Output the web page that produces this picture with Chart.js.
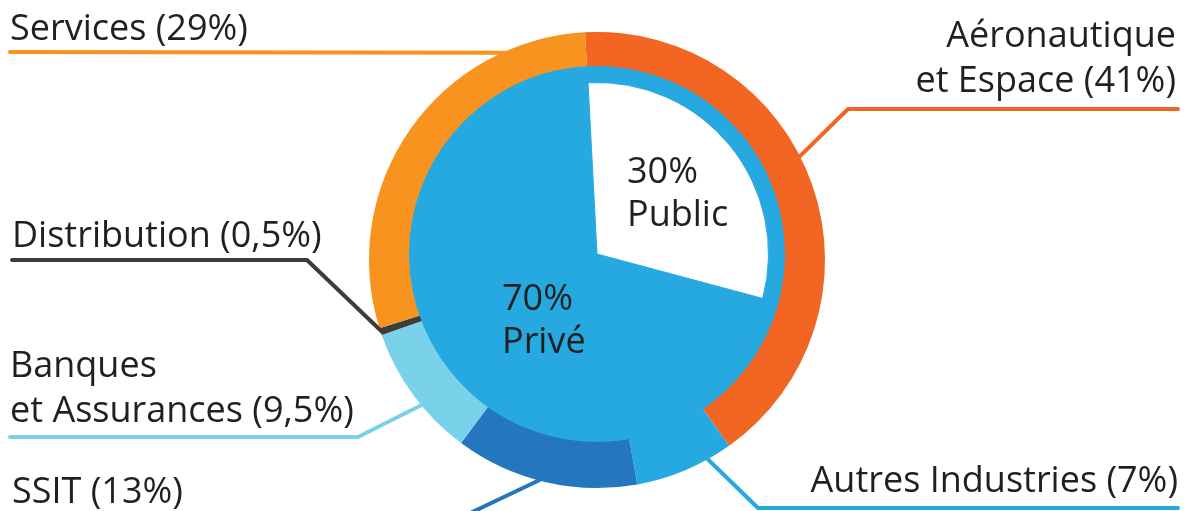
<!DOCTYPE html>
<html lang="fr">
<head>
<meta charset="utf-8">
<script src="https://cdn.jsdelivr.net/npm/chart.js@4.4.0/dist/chart.umd.min.js"></script>
<style>
    html, body { margin: 0; padding: 0; background: #ffffff; }
    #zone { position: relative; width: 1192px; height: 511px; overflow: hidden; }
    #zone canvas { position: absolute; left: 0; top: 0; }
</style>
</head>
<body>
<div id="zone">
    <canvas id="anneau" width="1192" height="511"></canvas>
    <canvas id="disque" width="1192" height="511"></canvas>
</div>
<script>
// secteurs d'activite (anneau exterieur)
var secteurs = ['Aéronautique et Espace', 'Autres Industries', 'SSIT', 'Banques et Assurances', 'Distribution', 'Services'];
var partsSecteurs = [41, 7, 13, 9.5, 0.5, 29];
var etiquettesSecteurs = [
    ['Aéronautique', 'et Espace (41%)'],
    ['Autres Industries (7%)'],
    ['SSIT (13%)'],
    ['Banques', 'et Assurances (9,5%)'],
    ['Distribution (0,5%)'],
    ['Services (29%)']
];
var couleursSecteurs = ['#F26522', '#25A9E0', '#2477BF', '#7AD1EA', '#3C3C3B', '#F7931E'];

// public / prive (disque central)
var statuts = ['Public', 'Privé'];
var partsStatuts = [30, 70];
var etiquettesStatuts = [['30%', 'Public'], ['70%', 'Privé']];

var bleu = '#25A9E0';
var police = '36px "Open Sans"';
var couleurTexte = '#231F20';

// angle (degres depuis midi) ou le trait touche l'anneau, puis coude et bout
var traits = [
    { angle: 63,    coude: [848, 109], bout: [1178, 109], texte: [1176, 47],  align: 'right' },
    { angle: 151,   coude: [758, 508], bout: [1178, 508], texte: [1178, 492], align: 'right' },
    { angle: 194.5, coude: [464, 516], bout: [10, 516],   texte: [12, 503],   align: 'left' },
    { angle: 230.4, coude: [358, 437], bout: [10, 437],   texte: [10, 377],   align: 'left' },
    { angle: 251.7, coude: [307, 260], bout: [12, 260],   texte: [12, 247],   align: 'left' },
    { angle: 336,   coude: null,       bout: [10, 52],    texte: [10, 40],    align: 'left' }
];

var etiquettesAnneau = {
    id: 'etiquettesAnneau',
    afterDraw: function(chart) {
        var ctx = chart.ctx;
        var arc = chart.getDatasetMeta(0).data[0];
        var cx = arc.x, cy = arc.y, r = arc.outerRadius;

        ctx.save();
        ctx.lineWidth = 4;
        ctx.lineCap = 'round';
        ctx.lineJoin = 'round';
        for (var i = 0; i < traits.length; i++) {
            var t = traits[i];
            var a = t.angle * Math.PI / 180;
            ctx.strokeStyle = couleursSecteurs[i];
            ctx.beginPath();
            ctx.moveTo(cx + (r - 1) * Math.sin(a), cy - (r - 1) * Math.cos(a));
            if (t.coude) ctx.lineTo(t.coude[0], t.coude[1]);
            ctx.lineTo(t.bout[0], t.bout[1]);
            ctx.stroke();

            ctx.font = police;
            ctx.fillStyle = couleurTexte;
            ctx.textAlign = t.align;
            ctx.textBaseline = 'alphabetic';
            var lignes = etiquettesSecteurs[i];
            for (var j = 0; j < lignes.length; j++) {
                ctx.fillText(lignes[j], t.texte[0], t.texte[1] + j * 45);
            }
        }
        ctx.restore();
    }
};

var etiquettesDisque = {
    id: 'etiquettesDisque',
    afterDraw: function(chart) {
        var ctx = chart.ctx;
        var positions = [[627, 183], [502, 310]];
        ctx.save();
        ctx.font = police;
        ctx.fillStyle = couleurTexte;
        ctx.textAlign = 'left';
        for (var i = 0; i < etiquettesStatuts.length; i++) {
            ctx.fillText(etiquettesStatuts[i][0], positions[i][0], positions[i][1]);
            ctx.fillText(etiquettesStatuts[i][1], positions[i][0], positions[i][1] + 43);
        }
        ctx.restore();
    }
};

new Chart(document.getElementById('anneau').getContext('2d'), {
    type: 'doughnut',
    data: {
        labels: secteurs,
        datasets: [{
            data: partsSecteurs,
            backgroundColor: couleursSecteurs,
            borderWidth: 0
        }]
    },
    options: {
        responsive: false,
        animation: false,
        rotation: -3,
        cutout: '70%',
        layout: { padding: { left: 369, right: 367, top: 32, bottom: 23 } },
        plugins: {
            legend: { display: false },
            tooltip: { enabled: false }
        }
    },
    plugins: [etiquettesAnneau]
});

new Chart(document.getElementById('disque').getContext('2d'), {
    type: 'doughnut',
    data: {
        labels: statuts,
        datasets: [{
            // bordure bleue autour de la part publique
            data: partsStatuts,
            backgroundColor: [bleu, bleu],
            borderColor: [bleu, bleu],
            borderWidth: 1,
            weight: 16
        }, {
            data: partsStatuts,
            backgroundColor: ['#FFFFFF', bleu],
            borderColor: ['#FFFFFF', bleu],
            borderWidth: 1,
            weight: 172
        }]
    },
    options: {
        responsive: false,
        animation: false,
        rotation: -3,
        cutout: 0,
        layout: { padding: { left: 409, right: 407, top: 66, bottom: 69 } },
        plugins: {
            legend: { display: false },
            tooltip: { enabled: false }
        }
    },
    plugins: [etiquettesDisque]
});
</script>
</body>
</html>
